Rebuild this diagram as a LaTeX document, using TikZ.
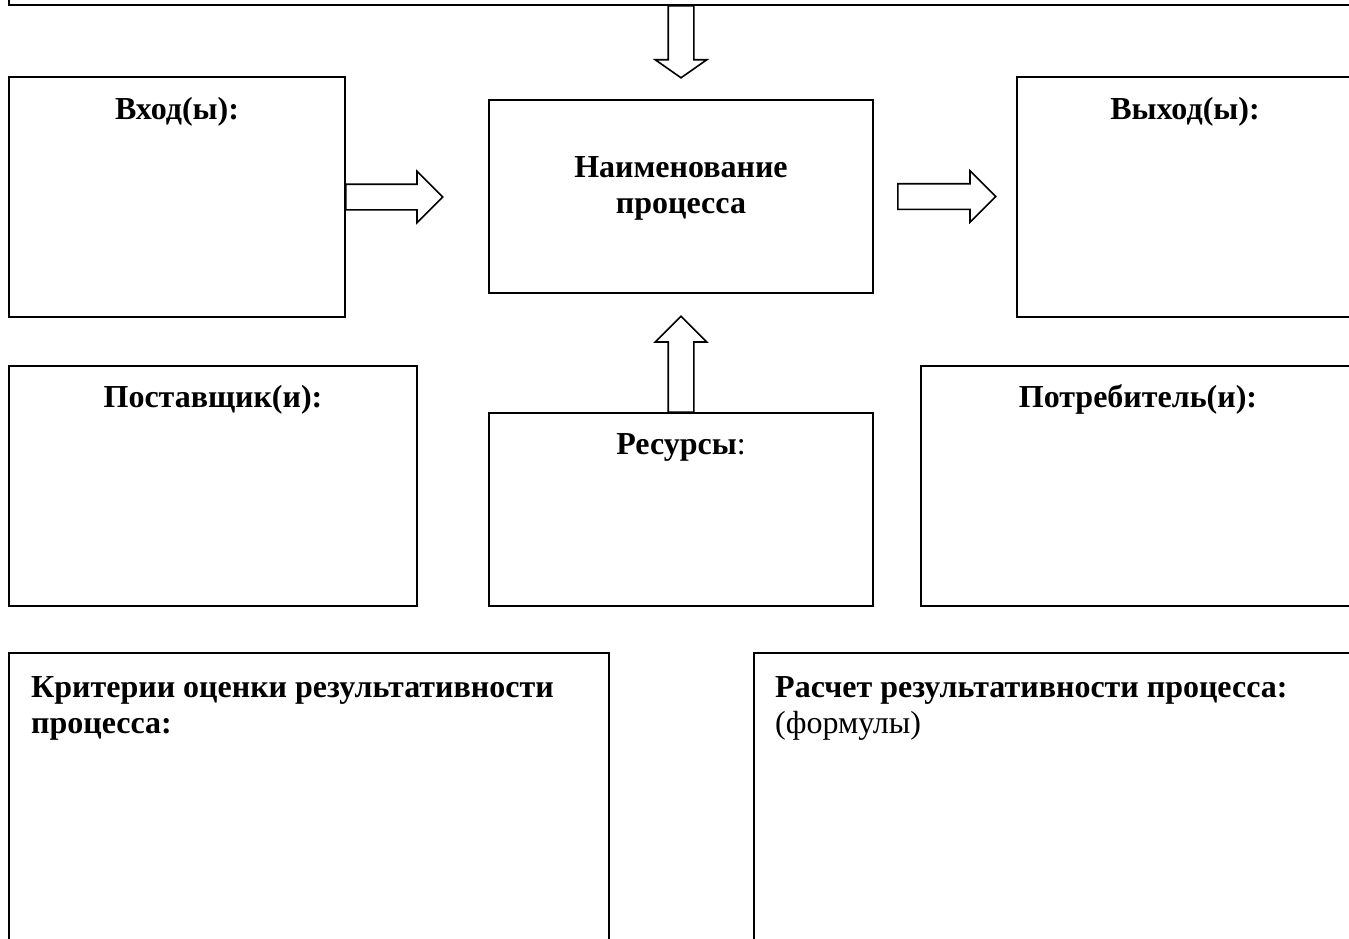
\documentclass[tikz,border=0pt]{standalone}
\usepackage{fontspec}
\setmainfont{Liberation Serif}
\usetikzlibrary{shapes,arrows}
\usetikzlibrary{positioning}

\begin{document}
\begin{tikzpicture}[x=1pt,y=-1pt,
  box/.style={draw,line width=1.8pt,inner sep=0pt,outer sep=0pt},
  lbl/.style={inner sep=0pt,font=\fontsize{32}{36}\selectfont\bfseries},
  blk/.style={single arrow,draw,line width=1.6pt,inner sep=0pt,inner ysep=12pt,
    single arrow head extend=13pt,single arrow head indent=0pt,anchor=tail},
  vblk/.style={blk,inner xsep=12pt,inner ysep=0pt}]

  \clip (0,0) rectangle (1349,938);

  \def \h {240}
  \def \hp {193}

  \begin{scope}

    \node[box,minimum width=1344pt,minimum height=105pt] (upr) at (681,-47.5) {};

    \node[box,minimum width=336pt,minimum height=\h pt] (vhod) at (177,197) {};
    \node[box,minimum width=384pt,minimum height=\hp pt] (proc) at (681,196.5) {};
    \node[box,minimum width=336pt,minimum height=\h pt] (vyhod) at (1185,197) {};

    \node[box,minimum width=408pt,minimum height=\h pt] (post) at (213,486) {};
    \node[box,minimum width=384pt,minimum height=\hp pt] (res) at (681,509.5) {};
    \node[box,minimum width=434pt,minimum height=\h pt] (potr) at (1138,486) {};

    \node[box,minimum width=600pt,minimum height=400pt] (krit) at (309,853) {};
    \node[box,minimum width=600pt,minimum height=400pt] (rasch) at (1054,853) {};

    \node[blk,minimum height=97pt] (a1) at (vhod.east) {};
    \node[blk,minimum height=98pt] (a2) at ([xshift=24pt]proc.east) {};
    \node[vblk,minimum height=72pt,shape border rotate=270,
      single arrow tip angle=110] (a3) at (upr.south) {};
    \node[vblk,minimum height=96pt,shape border rotate=90] (a4) at (res.north) {};

    \node[lbl,anchor=base] (vhodt) at ([yshift=-42pt]vhod.north) {Вход(ы):};
    \node[lbl,anchor=north,align=center] (proct) at ([yshift=-56pt]proc.north)
    {Наименование\\процесса};
    \node[lbl,anchor=base] (vyhodt) at ([yshift=-42pt]vyhod.north) {Выход(ы):};

    \node[lbl,anchor=base] (postt) at ([yshift=-41pt]post.north) {Поставщик(и):};
    \node[lbl,anchor=base] (rest) at ([yshift=-41pt]res.north) {Ресурсы\mdseries:};
    \node[lbl,anchor=base] (potrt) at ([yshift=-41pt]potr.north) {Потребитель(и):};

    \node[lbl,anchor=north west,align=left] (kritt) at
    ([xshift=22pt,yshift=-23pt]krit.north west) {Критерии оценки результативности\\процесса:};
    \node[lbl,anchor=north west,align=left] (rascht) at
    ([xshift=21pt,yshift=-23pt]rasch.north west) {Расчет результативности процесса:\\\mdseries(формулы)};

  \end{scope}

\end{tikzpicture}
\end{document}
